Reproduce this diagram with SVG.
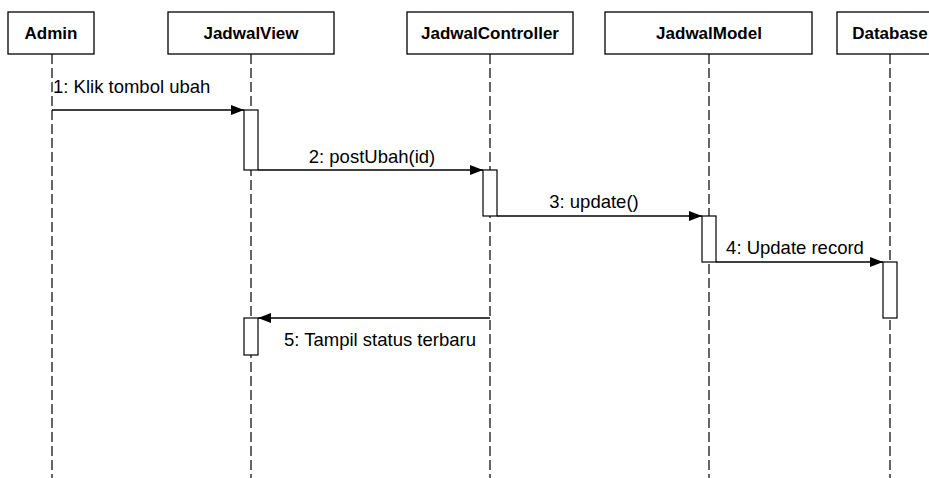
<svg xmlns="http://www.w3.org/2000/svg" width="929" height="478" viewBox="0 0 929 478">
<style>
.box{fill:#fff;stroke:#000;stroke-width:1.3}
.life{stroke:#000;stroke-width:1.2;stroke-dasharray:10,4;fill:none}
.act{fill:#fff;stroke:#000;stroke-width:1.2}
.msg{stroke:#000;stroke-width:1.3;fill:none;marker-end:url(#arr)}
.hd{font-family:"Liberation Sans",Arial,sans-serif;font-weight:bold;font-size:17px;text-anchor:middle;fill:#000}
.lb{font-family:"Liberation Sans",Arial,sans-serif;font-size:18.5px;fill:#000}
</style>
<defs>
<marker id="arr" markerWidth="13" markerHeight="10" refX="13" refY="5" orient="auto" markerUnits="userSpaceOnUse">
<path d="M0,0 L13,5 L0,10 Z" fill="#000"/>
</marker>
</defs>
<rect width="929" height="478" fill="#fff"/>
<g id="admin">
<line class="life" x1="52" y1="54" x2="52" y2="478"/>
<rect class="box" x="8" y="12" width="86" height="42"/>
<text class="hd" x="51" y="39">Admin</text>
</g>
<g id="jadwalview">
<line class="life" x1="251" y1="54" x2="251" y2="478"/>
<rect class="box" x="168" y="12" width="166" height="42"/>
<text class="hd" x="251" y="39">JadwalView</text>
<rect class="act" x="244" y="110" width="14" height="60"/>
<rect class="act" x="244" y="318" width="14" height="37"/>
</g>
<g id="jadwalcontroller">
<line class="life" x1="490" y1="54" x2="490" y2="478"/>
<rect class="box" x="407" y="12" width="166" height="42"/>
<text class="hd" x="490" y="39">JadwalController</text>
<rect class="act" x="483" y="170" width="14" height="46"/>
</g>
<g id="jadwalmodel">
<line class="life" x1="709" y1="54" x2="709" y2="478"/>
<rect class="box" x="605" y="12" width="207" height="42"/>
<text class="hd" x="709" y="39">JadwalModel</text>
<rect class="act" x="702" y="216" width="14" height="46"/>
</g>
<g id="database">
<line class="life" x1="890" y1="54" x2="890" y2="478"/>
<rect class="box" x="837" y="12" width="106" height="42"/>
<text class="hd" x="890" y="39">Database</text>
<rect class="act" x="883" y="262" width="14" height="56"/>
</g>
<g id="connectors">
<line class="msg" x1="52" y1="110" x2="244" y2="110"/>
<text class="lb" x="53" y="93">1: Klik tombol ubah</text>
<line class="msg" x1="258" y1="170" x2="483" y2="170"/>
<text class="lb" x="372" y="163" text-anchor="middle">2: postUbah(id)</text>
<line class="msg" x1="497" y1="216" x2="702" y2="216"/>
<text class="lb" x="594" y="208" text-anchor="middle">3: update()</text>
<line class="msg" x1="716" y1="262" x2="883" y2="262"/>
<text class="lb" x="795" y="254" text-anchor="middle">4: Update record</text>
<line class="msg" x1="490" y1="318" x2="258" y2="318"/>
<text class="lb" x="380" y="346" text-anchor="middle">5: Tampil status terbaru</text>
</g>
</svg>
